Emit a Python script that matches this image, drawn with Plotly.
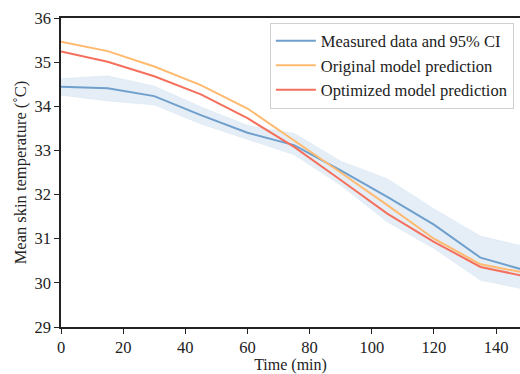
import plotly.graph_objects as go

time_min = [0, 15, 30, 45, 60, 75, 90, 105, 120, 135, 150]
measured = [34.44, 34.41, 34.23, 33.80, 33.40, 33.12, 32.55, 31.95, 31.32, 30.57, 30.27]
ci_upper = [34.63, 34.69, 34.46, 33.99, 33.57, 33.39, 32.76, 32.36, 31.68, 31.06, 30.81]
ci_lower = [34.25, 34.12, 34.03, 33.60, 33.25, 32.90, 32.21, 31.38, 30.78, 30.06, 29.84]
original = [35.46, 35.25, 34.90, 34.48, 33.95, 33.23, 32.50, 31.76, 31.00, 30.42, 30.22]
optimized = [35.24, 35.01, 34.68, 34.27, 33.73, 33.08, 32.33, 31.57, 30.93, 30.36, 30.14]

blue = "rgb(111,159,204)"
orange = "rgb(255,186,112)"
red = "rgb(245,112,92)"
font = "Liberation Serif, Times New Roman, serif"
fs = 16.5

fig = go.Figure()
fig.add_trace(go.Scatter(x=time_min, y=ci_upper, mode="lines", line=dict(width=0.6, color="rgba(111,159,204,0.15)"),
                         showlegend=False, hoverinfo="skip"))
fig.add_trace(go.Scatter(x=time_min, y=ci_lower, mode="lines", line=dict(width=0.6, color="rgba(111,159,204,0.15)"),
                         fill="tonexty", fillcolor="rgba(111,159,204,0.18)", showlegend=False, hoverinfo="skip"))
fig.add_trace(go.Scatter(x=time_min, y=measured, mode="lines", line=dict(width=2, color=blue),
                         name="Measured data and 95% CI"))
fig.add_trace(go.Scatter(x=time_min, y=original, mode="lines", line=dict(width=2, color=orange),
                         name="Original model prediction"))
fig.add_trace(go.Scatter(x=time_min, y=optimized, mode="lines", line=dict(width=2, color=red),
                         name="Optimized model prediction"))

fig.update_layout(
    width=520, height=374,
    margin=dict(l=61, r=0, t=18, b=47),
    plot_bgcolor="white", paper_bgcolor="white",
    font=dict(family=font, size=fs, color="#222"),
    legend=dict(x=0.455, y=0.985, xanchor="left", yanchor="top", traceorder="normal",
                bordercolor="#d0d0d0", borderwidth=1, bgcolor="rgba(255,255,255,0.9)",
                font=dict(family=font, size=fs, color="#222"),
                tracegroupgap=0, itemwidth=40),
    xaxis=dict(range=[0, 147.7], tickmode="array", tickvals=[0, 20, 40, 60, 80, 100, 120, 140],
               showgrid=False, zeroline=False, showline=True, linecolor="#222", linewidth=1.5,
               mirror=True, ticks="outside", ticklen=5, tickwidth=1.2, tickcolor="#222",
               automargin=False, ticklabelstandoff=-1,
               title=dict(text="Time (min)", standoff=3, font=dict(size=16)),
               tickfont=dict(size=fs)),
    yaxis=dict(range=[29, 36], dtick=1, showgrid=False, zeroline=False, showline=True,
               linecolor="#222", linewidth=1.5, mirror=False, ticks="outside", ticklen=5,
               tickwidth=1.2, tickcolor="#222",
               title=dict(text="Mean skin temperature (˚C)", standoff=4, font=dict(size=fs)),
               tickfont=dict(size=fs)),
)

fig.write_html("out.html")
